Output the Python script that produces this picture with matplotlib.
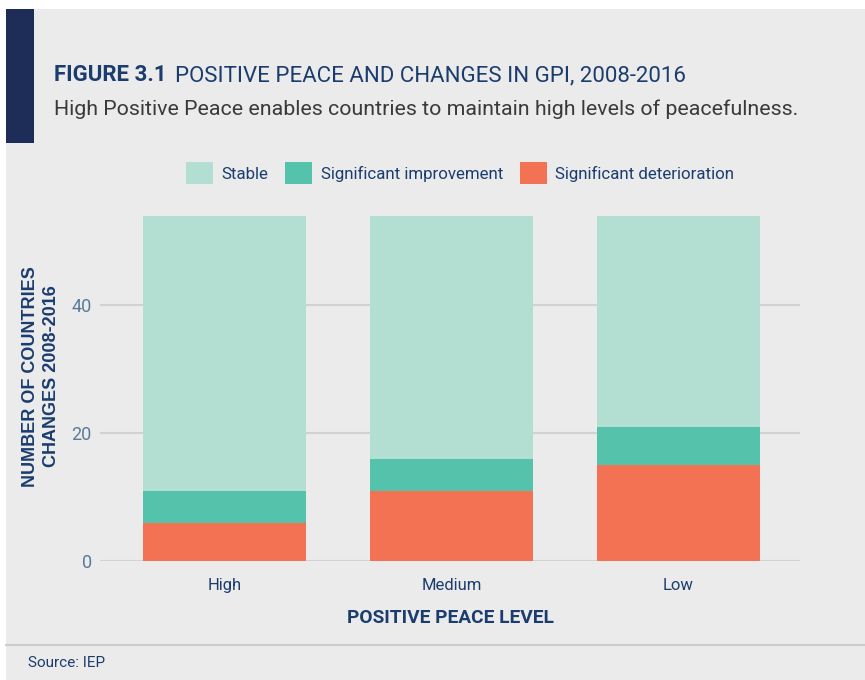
import numpy as np
import matplotlib
matplotlib.use("Agg")
import matplotlib.pyplot as plt
from matplotlib.patches import Rectangle

# data
levels = ["High", "Medium", "Low"]
deterioration = [6, 11, 15]
improvement = [5, 5, 6]
stable = [43, 38, 33]
yticks = [0, 20, 40]

c_stable = "#B3DED2"
c_impr = "#55C2AB"
c_det = "#F37254"
navy = "#1B3D6E"
bg = "#EBEBEB"

plt.rcParams['font.family'] = ['Roboto', 'DejaVu Sans']

fig = plt.figure(figsize=(8.65, 6.8), dpi=100)
fig.patch.set_facecolor("white")

W, H = 865.0, 680.0
def fx(px): return px / W
def fy(py): return 1 - py / H

# grey panel + navy side bar
fig.patches.append(Rectangle((fx(6), 0), 1 - fx(6), fy(9), transform=fig.transFigure,
                             facecolor=bg, edgecolor="none", zorder=-10))
fig.patches.append(Rectangle((fx(6), fy(143)), fx(34) - fx(6), fy(9) - fy(143),
                             transform=fig.transFigure, facecolor="#1E2D58",
                             edgecolor="none", zorder=-9))
# source separator
fig.add_artist(plt.Line2D([fx(6), 1], [fy(645), fy(645)], color="#CDCDCD", lw=1.5))

# title
t1 = fig.text(fx(54), fy(81), "FIGURE 3.1", fontsize=16, fontweight="bold",
              color=navy, va="baseline", ha="left")
fig.canvas.draw()
bb = t1.get_window_extent()
fig.text(bb.x1 / W + fx(8), fy(81), "POSITIVE PEACE AND CHANGES IN GPI, 2008-2016",
         fontsize=16, color=navy, va="baseline", ha="left")
fig.text(fx(54), fy(115), "High Positive Peace enables countries to maintain high levels of peacefulness.",
         fontsize=15.4, color="#3A3A3A", va="baseline", ha="left")
fig.text(fx(28), fy(667), "Source: IEP", fontsize=11, color=navy, va="baseline", ha="left")

ax = fig.add_axes([fx(100), fy(561), fx(800) - fx(100), fy(216) - fy(561)])
ax.set_facecolor(bg)
x = np.arange(len(levels))
w = 0.72
bot2 = np.array(deterioration) + np.array(improvement)
ax.bar(x, deterioration, w, color=c_det, label="Significant deterioration", zorder=3)
ax.bar(x, improvement, w, bottom=deterioration, color=c_impr, label="Significant improvement", zorder=3)
ax.bar(x, stable, w, bottom=bot2, color=c_stable, label="Stable", zorder=3)

ax.set_xlim(-0.551, 2.538)
ax.set_ylim(0, 54)
ax.set_yticks(yticks)
ax.grid(axis="y", color="#D2D2D2", lw=1.5, zorder=0)
for s in ax.spines.values():
    s.set_visible(False)
ax.tick_params(length=0)
ax.tick_params(axis="y", labelsize=13, labelcolor="#5B7A9A", pad=6)
ax.tick_params(axis="x", labelsize=12, labelcolor=navy, pad=12)
ax.set_xticks(x)
ax.set_xticklabels(levels)
ax.set_xlabel("POSITIVE PEACE LEVEL", fontsize=13.8, fontweight="bold", color=navy, labelpad=12)
ax.set_ylabel("NUMBER OF COUNTRIES\nCHANGES 2008-2016", fontsize=13, fontweight="bold",
              color=navy, family=["Liberation Sans", "DejaVu Sans"], linespacing=1.3)
ax.yaxis.set_label_coords(-0.057, 0.536)

h, l = ax.get_legend_handles_labels()
order = [2, 1, 0]
ax.legend([h[i] for i in order], [l[i] for i in order], ncol=3, frameon=False,
          loc="center", bbox_to_anchor=(fx(460), fy(173)), bbox_transform=fig.transFigure,
          fontsize=12.2, labelcolor=navy, handlelength=1.6, handleheight=1.6,
          handletextpad=0.5, columnspacing=1.0)

fig.savefig("out.png", dpi=100, facecolor=fig.get_facecolor())
